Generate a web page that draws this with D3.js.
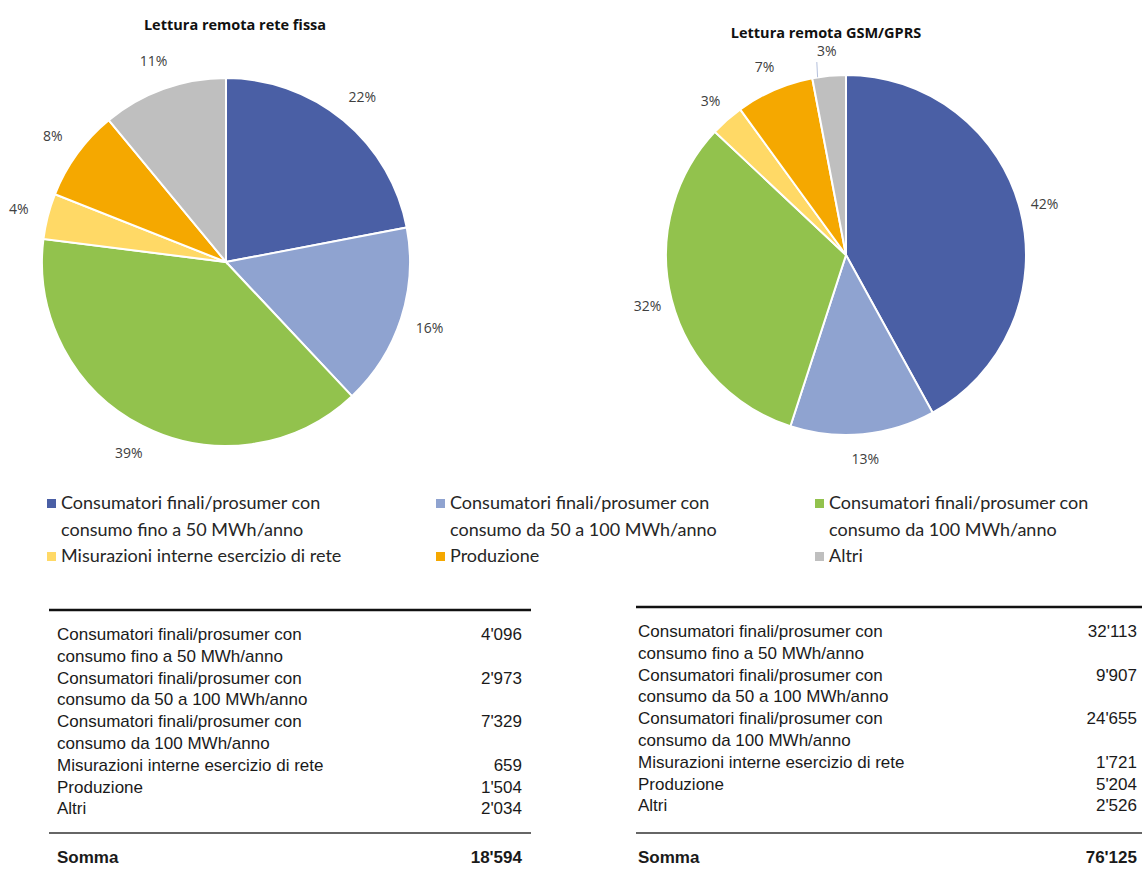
<!DOCTYPE html>
<meta charset="utf-8">
<head>
<title>Lettura remota</title>
<script src="https://cdn.jsdelivr.net/npm/d3@7"></script>
<style>
body { margin: 0; background: #fff; }
.title { font-family: "Open Sans", sans-serif; font-weight: bold; font-size: 14.5px; fill: #111; }
.pct { font-family: "Open Sans", sans-serif; font-size: 14px; fill: #404040; }
.legend text { font-family: Lato, sans-serif; font-size: 18px; fill: #262626; }
.tbl text { font-family: "Liberation Sans", Arial, sans-serif; font-size: 17px; fill: #1a1a1a; }
</style>
</head>
<body>
<script>
// categories (each split in the lines used by legend and table)
const categories = [
    ["Consumatori finali/prosumer con", "consumo fino a 50 MWh/anno"],
    ["Consumatori finali/prosumer con", "consumo da 50 a 100 MWh/anno"],
    ["Consumatori finali/prosumer con", "consumo da 100 MWh/anno"],
    ["Misurazioni interne esercizio di rete"],
    ["Produzione"],
    ["Altri"]
];
const colors = ["#4a5fa5", "#8fa3d0", "#92c24d", "#ffd966", "#f5a800", "#bfbfbf"];

// shares printed on the pies (%)
const fissaShares = [22, 16, 39, 4, 8, 11];
const gsmShares = [42, 13, 32, 3, 7, 3];

// table values
const fissaCounts = [4096, 2973, 7329, 659, 1504, 2034];
const gsmCounts = [32113, 9907, 24655, 1721, 5204, 2526];
const fissaTotal = 18594;
const gsmTotal = 76125;

const titles = ["Lettura remota rete fissa", "Lettura remota GSM/GPRS"];

const width = 1142, height = 877;
const svg = d3.select("body").append("svg")
    .attr("width", width)
    .attr("height", height);

const fmt = d3.formatLocale({decimal: ".", thousands: "'", grouping: [3], currency: ["", ""]}).format(",");

function drawPie(shares, cx, cy, r, labelR, title, tx, ty) {
    const g = svg.append("g").attr("transform", `translate(${cx},${cy})`);
    const pie = d3.pie().sort(null).value(d => d);
    const arc = d3.arc().innerRadius(0).outerRadius(r);
    const labelArc = d3.arc().innerRadius(labelR).outerRadius(labelR);
    const arcs = pie(shares);

    g.selectAll("path")
        .data(arcs)
        .enter().append("path")
        .attr("d", arc)
        .attr("fill", (d, i) => colors[i])
        .attr("stroke", "#fff")
        .attr("stroke-width", 2);

    g.selectAll("text")
        .data(arcs)
        .enter().append("text")
        .attr("class", "pct")
        .attr("transform", d => `translate(${labelArc.centroid(d)})`)
        .attr("text-anchor", "middle")
        .attr("dy", "0.35em")
        .text(d => d.data + "%");

    svg.append("text")
        .attr("class", "title")
        .attr("x", tx).attr("y", ty)
        .attr("text-anchor", "middle")
        .text(title);
    return {g, arcs};
}

drawPie(fissaShares, 226, 262, 184, 214, titles[0], 235, 30);
const right = drawPie(gsmShares, 846, 255, 180, 205, titles[1], 826, 38);

// leader line for the small grey slice
const last = right.arcs[5];
const a0 = last.startAngle + 0.03, a1 = (last.startAngle + last.endAngle) / 2 - 0.01;
right.g.append("line")
    .attr("x1", 180 * Math.sin(a0)).attr("y1", -180 * Math.cos(a0))
    .attr("x2", 194 * Math.sin(a1) - 9).attr("y2", -194 * Math.cos(a1))
    .attr("stroke", "#b4c0dc")
    .attr("stroke-width", 1);

// legend
const legCols = [47, 436, 815];
const legRows = [503, 556];
const lineH = 27;
const legend = svg.append("g").attr("class", "legend");
categories.forEach((lines, i) => {
    const x = legCols[i % 3], y = legRows[Math.floor(i / 3)];
    legend.append("rect")
        .attr("x", x).attr("y", y - 4)
        .attr("width", 9).attr("height", 9)
        .attr("fill", colors[i]);
    const t = legend.append("text").attr("x", x + 14).attr("y", y).attr("dy", "0.35em");
    lines.forEach((l, j) => {
        t.append("tspan").attr("x", x + 14).attr("dy", j === 0 ? "0.35em" : lineH).text(l);
    });
});

// tables
function drawTable(counts, total, x0, x1, textX, valX, topY) {
    const g = svg.append("g").attr("class", "tbl");
    g.append("line").attr("x1", x0).attr("x2", x1).attr("y1", topY).attr("y2", topY)
        .attr("stroke", "#111").attr("stroke-width", 2.5);
    const rowH = 21.8;
    let y = topY + 24;
    categories.forEach((lines, i) => {
        g.append("text").attr("x", valX).attr("y", y).attr("dy", "0.35em")
            .attr("text-anchor", "end").text(fmt(counts[i]));
        lines.forEach(l => {
            g.append("text").attr("x", textX).attr("y", y).attr("dy", "0.35em").text(l);
            y += rowH;
        });
    });
    g.append("line").attr("x1", x0).attr("x2", x1).attr("y1", 833).attr("y2", 833)
        .attr("stroke", "#333").attr("stroke-width", 1.5);
    g.append("text").attr("x", textX).attr("y", 857).attr("dy", "0.35em")
        .attr("font-weight", "bold").text("Somma");
    g.append("text").attr("x", valX).attr("y", 857).attr("dy", "0.35em")
        .attr("text-anchor", "end").attr("font-weight", "bold").text(fmt(total));
}

drawTable(fissaCounts, fissaTotal, 49, 531, 57, 522, 610);
drawTable(gsmCounts, gsmTotal, 636, 1142, 638, 1137, 607);
</script>
</body>
</html>
